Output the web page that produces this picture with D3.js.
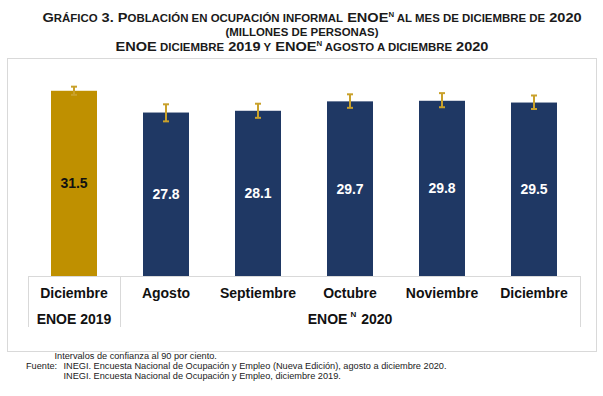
<!DOCTYPE html>
<html>
<head>
<meta charset="utf-8">
<script src="https://cdn.jsdelivr.net/npm/d3@7"></script>
<style>
  body { margin: 0; background: #fff; }
  text { font-family: "Liberation Sans", Arial, sans-serif; }
</style>
</head>
<body>
<div id="chart"></div>
<script>
// data
let categories = ["Diciembre", "Agosto", "Septiembre", "Octubre", "Noviembre", "Diciembre"];
let values = [31.5, 27.8, 28.1, 29.7, 29.8, 29.5];
let lowerCI = [30.8, 26.3, 26.9, 28.6, 28.7, 28.4];
let upperCI = [32.2, 29.2, 29.3, 30.9, 31.1, 30.7];
let groups = [
  { label: "ENOE 2019", sup: "", first: 0, last: 0 },
  { label: "ENOE", sup: "N", rest: "2020", first: 1, last: 5 }
];
let footnotes = [
  ["", "Intervalos de confianza al 90 por ciento."],
  ["Fuente:", "INEGI. Encuesta Nacional de Ocupación y Empleo (Nueva Edición), agosto a diciembre 2020."],
  ["", "INEGI. Encuesta Nacional de Ocupación y Empleo, diciembre 2019."]
];

// title pieces: [text, kind]  L = large caps, S = small caps, N = superscript
let titleLines = [
  [["G", "L"], ["RÁFICO", "S"], [" 3. P", "L"], ["OBLACIÓN EN OCUPACIÓN INFORMAL", "S"], [" ENOE", "L"], ["N", "N"],
   [" AL MES DE DICIEMBRE DE", "S"], [" 2020", "L"]],
  [["(MILLONES DE PERSONAS)", "S"]],
  [["ENOE", "L"], [" DICIEMBRE", "S"], [" 2019", "L"], [" Y", "S"], [" ENOE", "L"], ["N", "N"],
   [" AGOSTO A DICIEMBRE", "S"], [" 2020", "L"]]
];

let svgWidth = 603;
let svgHeight = 396;

let svg = d3.select("#chart")
  .append("svg")
  .attr("width", svgWidth)
  .attr("height", svgHeight);

// outer frame
svg.append("rect")
  .attr("x", 7.5).attr("y", 58.5)
  .attr("width", 589).attr("height", 293)
  .attr("fill", "none")
  .attr("stroke", "#d9d9d9");

// title (narrow look: squeeze horizontally so line 1 fills ~539px)
let sizes = { L: 13, S: 10.2, N: 7 };
let titleY = [21.5, 36, 51.3];
let titleX = [312, 302, 302];
let titleTexts = titleLines.map((line, i) => {
  let t = svg.append("text")
    .attr("text-anchor", "middle")
    .attr("font-weight", "bold")
    .attr("fill", "#1a1a1a");
  let lift = 0;
  line.forEach(p => {
    let up = p[1] === "N" ? -5 : 0;
    t.append("tspan")
      .attr("font-size", sizes[p[1]])
      .attr("dy", up - lift)
      .text(p[0]);
    lift = up;
  });
  return t;
});
let k = 539 / titleTexts[0].node().getComputedTextLength();
titleTexts.forEach((t, i) => {
  t.attr("transform", `translate(${titleX[i]}, ${titleY[i]}) scale(${k}, 1)`);
});

// scales
let xScale = d3.scaleBand()
  .domain(d3.range(categories.length))
  .range([28, 580])
  .paddingInner(0.5)
  .paddingOuter(0.25);

let yScale = d3.scaleLinear()
  .domain([0, 35])
  .range([276, 276 - 35 * 5.88]);

let colors = d => d === 0 ? "#bf9000" : "#1f3864";

// bars
let chartGroup = svg.append("g");
chartGroup.selectAll("rect.bar")
  .data(values)
  .enter()
  .append("rect")
  .attr("class", "bar")
  .attr("x", (d, i) => xScale(i))
  .attr("y", d => yScale(d))
  .attr("width", xScale.bandwidth())
  .attr("height", d => yScale(0) - yScale(d))
  .attr("fill", (d, i) => colors(i));

// error bars
let errColor = "#c9a12b";
let errGroup = chartGroup.selectAll("g.err")
  .data(values)
  .enter()
  .append("g")
  .attr("class", "err")
  .attr("stroke", errColor)
  .attr("stroke-width", 2);
errGroup.append("line")
  .attr("x1", (d, i) => xScale(i) + xScale.bandwidth() / 2)
  .attr("x2", (d, i) => xScale(i) + xScale.bandwidth() / 2)
  .attr("y1", (d, i) => yScale(upperCI[i]))
  .attr("y2", (d, i) => yScale(lowerCI[i]));
[upperCI, lowerCI].forEach(arr => {
  errGroup.append("line")
    .attr("x1", (d, i) => xScale(i) + xScale.bandwidth() / 2 - 3)
    .attr("x2", (d, i) => xScale(i) + xScale.bandwidth() / 2 + 3)
    .attr("y1", (d, i) => yScale(arr[i]))
    .attr("y2", (d, i) => yScale(arr[i]));
});

// value labels
chartGroup.selectAll("text.val")
  .data(values)
  .enter()
  .append("text")
  .attr("class", "val")
  .attr("x", (d, i) => xScale(i) + xScale.bandwidth() / 2)
  .attr("y", d => (yScale(d) + yScale(0)) / 2 + 5)
  .attr("text-anchor", "middle")
  .attr("font-weight", "bold")
  .attr("font-size", 14)
  .attr("fill", (d, i) => i === 0 ? "#111" : "#fff")
  .text(d => d.toFixed(1));

// category axis
let axisColor = "#d9d9d9";
svg.append("line")
  .attr("x1", xScale.range()[0]).attr("x2", xScale.range()[1])
  .attr("y1", yScale(0) + 0.5).attr("y2", yScale(0) + 0.5)
  .attr("stroke", axisColor);
let dividers = [xScale.range()[0], xScale.range()[0] + xScale.step(), xScale.range()[1]];
svg.selectAll("line.div")
  .data(dividers)
  .enter()
  .append("line")
  .attr("class", "div")
  .attr("x1", d => d + 0.5).attr("x2", d => d + 0.5)
  .attr("y1", yScale(0)).attr("y2", 327)
  .attr("stroke", axisColor);

svg.selectAll("text.cat")
  .data(categories)
  .enter()
  .append("text")
  .attr("class", "cat")
  .attr("x", (d, i) => xScale(i) + xScale.bandwidth() / 2)
  .attr("y", 297.5)
  .attr("text-anchor", "middle")
  .attr("font-weight", "bold")
  .attr("font-size", 14)
  .attr("fill", "#111")
  .text(d => d);

groups.forEach(g => {
  let cx = (xScale(g.first) + xScale(g.last) + xScale.bandwidth()) / 2;
  let t = svg.append("text")
    .attr("x", cx)
    .attr("y", 323.5)
    .attr("text-anchor", "middle")
    .attr("font-weight", "bold")
    .attr("font-size", 14)
    .attr("fill", "#111");
  t.append("tspan").text(g.label);
  if (g.sup) {
    t.append("tspan").attr("font-size", 8).attr("dx", 3).attr("dy", -7).text(g.sup);
    t.append("tspan").attr("dx", 5).attr("dy", 7).text(g.rest);
  }
});

// footnotes
footnotes.forEach((f, i) => {
  let y = 359.3 + i * 9.6;
  if (f[0]) {
    svg.append("text").attr("x", 26).attr("y", y)
      .attr("font-size", 9.2).attr("fill", "#222").text(f[0]);
  }
  svg.append("text").attr("x", i === 0 ? 54.5 : 63.5).attr("y", y)
    .attr("font-size", 9.2).attr("fill", "#222").text(f[1]);
});
</script>
</body>
</html>
